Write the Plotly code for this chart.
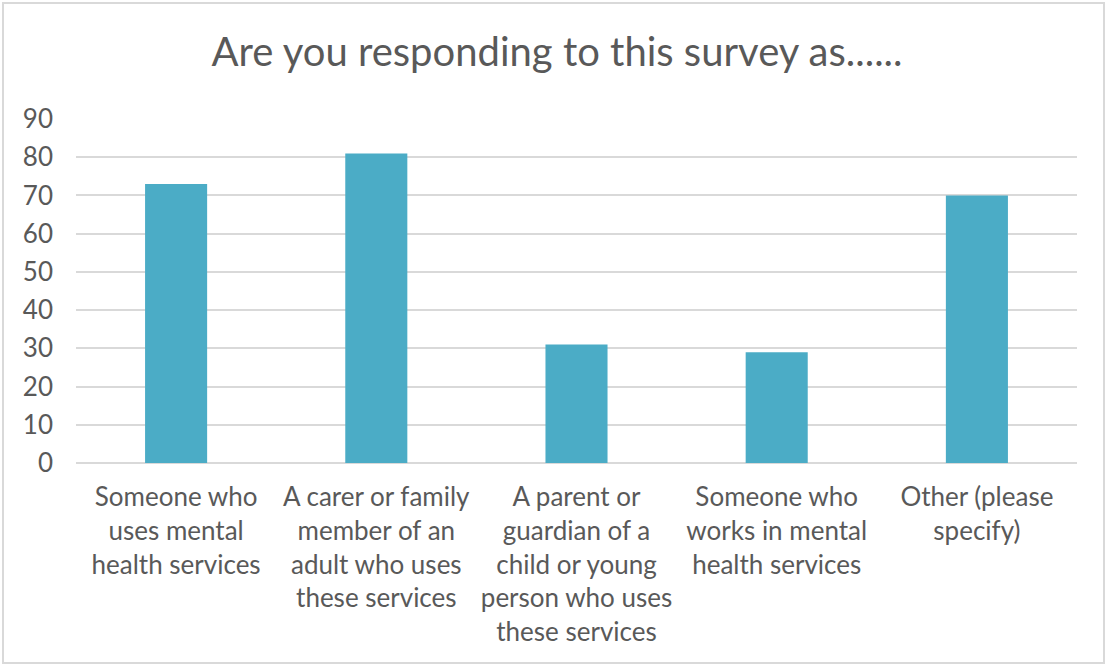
import plotly.graph_objects as go

categories = [
    "Someone who<br>uses mental<br>health services",
    "A carer or family<br>member of an<br>adult who uses<br>these services",
    "A parent or<br>guardian of a<br>child or young<br>person who uses<br>these services",
    "Someone who<br>works in mental<br>health services",
    "Other (please<br>specify)",
]
values = [73, 81, 31, 29, 70]
y_ticks = [0, 10, 20, 30, 40, 50, 60, 70, 80, 90]
title_text = "Are you responding to this survey as......"

W, H = 1107, 666
ML, MR, MT, MB = 76, 30, 119, 203
pw, ph = W - ML - MR, H - MT - MB

fig = go.Figure(go.Bar(
    x=categories, y=values,
    marker=dict(color="#4BACC6", line=dict(width=0)),
))

fig.update_layout(
    width=W, height=H,
    margin=dict(l=ML, r=MR, t=MT, b=MB),
    paper_bgcolor="white", plot_bgcolor="white",
    font=dict(family="Lato", color="#595959"),
    title=dict(text=title_text, x=557 / W, xref="container", xanchor="center",
               y=1 - 52 / H, yanchor="middle",
               font=dict(size=40, color="#595959", family="Lato")),
    bargap=0.69,
    showlegend=False,
    xaxis=dict(tickfont=dict(size=26), showgrid=False, ticks="",
               showline=False, ticklabelstandoff=16),
    yaxis=dict(range=[0, 90], tickvals=y_ticks, tickfont=dict(size=26),
               showgrid=True, gridcolor="#D9D9D9", gridwidth=2,
               zeroline=True, zerolinecolor="#D9D9D9", zerolinewidth=2,
               ticks="", showline=False, ticklabelstandoff=22),
    shapes=[dict(type="rect", xref="paper", yref="paper",
                 x0=-(ML - 3) / pw, x1=1 + (MR - 3) / pw,
                 y0=-(MB - 3) / ph, y1=1 + (MT - 3) / ph,
                 line=dict(color="#D9D9D9", width=2), layer="below")],
)

fig.write_html("out.html")
